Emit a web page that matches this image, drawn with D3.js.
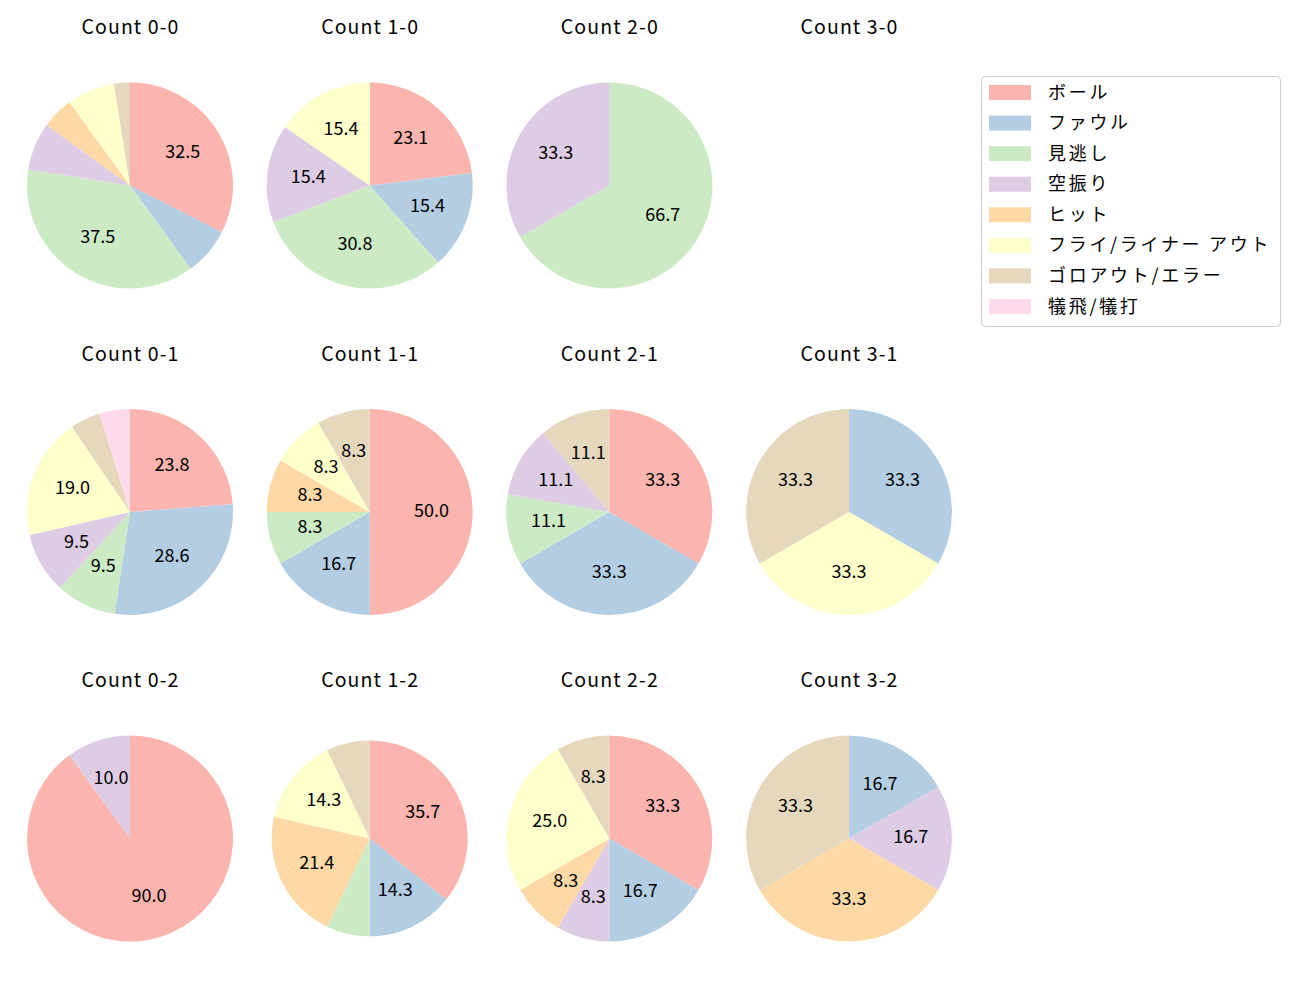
<!DOCTYPE html>
<html><head><meta charset="utf-8">
<script src="https://cdn.jsdelivr.net/npm/d3@7"></script>
<style>body{margin:0;background:#fff;} text{font-family:"Noto Sans CJK JP","Noto Sans",sans-serif;}</style>
</head><body>
<svg id="chart" width="1300" height="1000"></svg>
<script>
const categories = ["ボール","ファウル","見逃し","空振り","ヒット","フライ/ライナー アウト","ゴロアウト/エラー","犠飛/犠打"];
const colors = ["#fbb4ae","#b3cde3","#ccebc5","#decbe4","#fed9a6","#ffffcc","#e5d8bd","#fddaec"];
const counts = ["0-0","1-0","2-0","3-0","0-1","1-1","2-1","3-1","0-2","1-2","2-2","3-2"];
// pitch counts per category, order as categories
const values = [
  [13,3,15,3,2,3,1,0],
  [3,2,4,2,0,2,0,0],
  [0,0,2,1,0,0,0,0],
  [0,0,0,0,0,0,0,0],
  [5,6,2,2,0,4,1,1],
  [6,2,1,0,1,1,1,0],
  [3,3,1,1,0,0,1,0],
  [0,1,0,0,0,1,1,0],
  [9,0,0,1,0,0,0,0],
  [5,2,1,0,3,2,1,0],
  [4,2,0,1,1,3,1,0],
  [0,1,0,1,2,0,2,0]
];
const svg = d3.select("#chart");
const colX = d3.scalePoint().domain([0,1,2,3]).range([130,849]);
const rowY = d3.scalePoint().domain([0,1,2]).range([185.5,838.5]);
const color = d3.scaleOrdinal().domain(categories).range(colors);
const pie = d3.pie().sort(null).value(d=>d.v);

counts.forEach((c,i)=>{
  const col = i%4, row = Math.floor(i/4);
  const cx = colX(col), cy = rowY(row);
  const R = (c==="1-2") ? 98 : 103;
  const g = svg.append("g").attr("transform",`translate(${cx},${cy})`);
  svg.append("text").attr("x",cx+0.5).attr("y",cy-151.5).attr("text-anchor","middle")
    .attr("font-size",19.5).attr("letter-spacing","1.1px").attr("fill","#000").text("Count "+c);
  const data = categories.map((k,j)=>({k, v:values[i][j]}));
  const total = d3.sum(data,d=>d.v);
  if(total===0) return;
  const arcs = pie(data).filter(a=>a.data.v>0);
  const arc = d3.arc().innerRadius(0).outerRadius(R);
  const lab = d3.arc().innerRadius(R*0.6).outerRadius(R*0.6);
  g.selectAll("path").data(arcs).join("path")
    .attr("d",arc).attr("fill",d=>color(d.data.k));
  g.selectAll("text").data(arcs.filter(a=>a.data.v/total*100>=8)).join("text")
    .attr("transform",d=>{const p=lab.centroid(d);return `translate(${p[0]},${p[1]+4.6})`;})
    .attr("text-anchor","middle")
    .attr("font-size",18).attr("fill","#000")
    .text(d=>(d.data.v/total*100).toFixed(1));
});

// legend
const lg = svg.append("g");
lg.append("rect").attr("x",981.5).attr("y",76.5).attr("width",299).attr("height",250)
  .attr("rx",4).attr("fill","#fff").attr("stroke","#cccccc");
const ly = d3.scaleLinear().domain([0,7]).range([92,306]);
categories.forEach((k,j)=>{
  lg.append("rect").attr("x",989).attr("y",ly(j)-7).attr("width",42).attr("height",15).attr("fill",color(k));
  lg.append("text").attr("x",1048).attr("y",ly(j)+6.5)
    .attr("font-size",18).attr("letter-spacing","2.7px").attr("fill","#000").text(k);
});
</script>
</body></html>
